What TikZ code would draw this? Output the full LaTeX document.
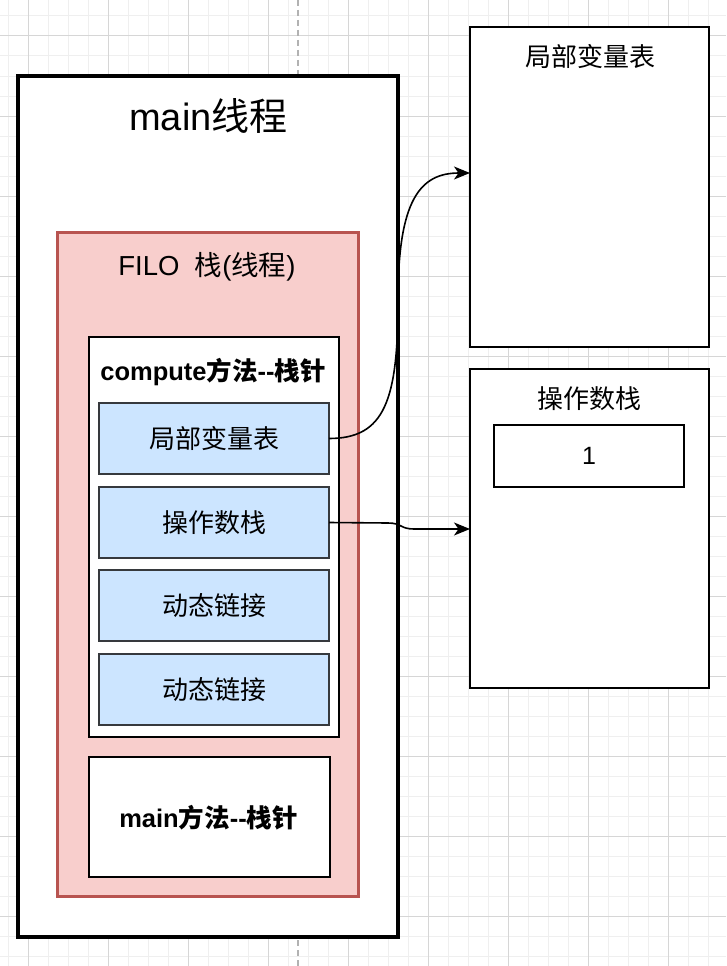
\documentclass[tikz,border=0pt]{standalone}
\usepackage{fontspec}
\setmainfont{Liberation Sans}
\newfontfamily\cjk{Noto Sans CJK SC}
\usetikzlibrary{arrows.meta}
\definecolor{pinkfill}{HTML}{F8CECC}
\definecolor{pinkline}{HTML}{B85450}
\definecolor{bluefill}{HTML}{CCE5FF}
\definecolor{blueline}{HTML}{36393D}
\definecolor{gridminor}{HTML}{EFEFEF}
\definecolor{gridmajor}{HTML}{D6D6D6}
\tikzset{
  box/.style={draw=black, fill=white, rectangle, inner sep=0pt, outer sep=0pt, anchor=north west},
  stackbox/.style={box, draw=pinkline, fill=pinkfill, line width=3pt},
  bluebox/.style={box, draw=blueline, fill=bluefill, line width=2pt, minimum width=230pt, minimum height=71pt,
    font=\fontsize{26}{30}\selectfont\cjk},
  lbl/.style={inner sep=0pt, font=\fontsize{26}{30}\selectfont},
  conn/.style={draw=black, line width=1.6pt, -{Stealth[length=16pt,width=13pt,inset=4.5pt]}},
}
\begin{document}
\begin{tikzpicture}[x=1pt,y=-1pt]
\useasboundingbox (0,0) rectangle (726,966);
\fill[white] (0,0) rectangle (726,966);
% grid
\foreach \x in {8,28,...,726} \draw[gridminor, line width=1pt] (\x,0) -- (\x,966);
\foreach \y in {16,36,...,966} \draw[gridminor, line width=1pt] (0,\y) -- (726,\y);
\foreach \x in {28,108,...,726} \draw[gridmajor, line width=1pt] (\x,0) -- (\x,966);
\foreach \y in {36,116,...,966} \draw[gridmajor, line width=1pt] (0,\y) -- (726,\y);
% guide line
\draw[gray!60, line width=1.2pt, dash pattern=on 6pt off 4pt] (298,0) -- (298,966);

% main thread box
\node[box, line width=4pt, minimum width=380pt, minimum height=861pt] (mainth) at (18,76) {};
\node[lbl, font=\fontsize{38}{42}\selectfont] (maintitle) at (208.5,116) {main{\cjk 线程}};

% stack box
\node[stackbox, minimum width=301pt, minimum height=664pt] (stack) at (57,232) {};
\node[lbl, font=\fontsize{27.5}{31}\selectfont] (stacktitle) at (207,267) {FILO\ \ {\cjk 栈}({\cjk 线程})};

% compute frame
\node[box, line width=2pt, minimum width=250pt, minimum height=400pt] (compute) at (89,337) {};
\node[lbl, font=\fontsize{25.5}{29}\selectfont\bfseries] (computetitle) at (213,372) {compute{\cjk 方法}-{}-{\cjk 栈针}};

\node[bluebox] (lv) at (99,403) {局部变量表};
\node[bluebox] (os) at (99,487) {操作数栈};
\node[bluebox] (dl1) at (99,570) {动态链接};
\node[bluebox] (dl2) at (99,654) {动态链接};

% main method frame
\node[box, line width=2pt, minimum width=241pt, minimum height=120pt] (mainm) at (89,757) {};
\node[lbl, font=\fontsize{25.5}{29}\selectfont\bfseries] (mainmtitle) at (208.5,818) {main{\cjk 方法}-{}-{\cjk 栈针}};

% right boxes
\node[box, line width=2pt, minimum width=239pt, minimum height=320pt] (lvt) at (470,27) {};
\node[lbl, font=\fontsize{26}{30}\selectfont\cjk] (lvttitle) at (590,57) {局部变量表};

\node[box, line width=2pt, minimum width=239pt, minimum height=319pt] (ost) at (470,369) {};
\node[lbl, font=\fontsize{26}{30}\selectfont\cjk] (osttitle) at (589.5,399) {操作数栈};
\node[box, line width=2pt, minimum width=190pt, minimum height=62pt] (one) at (494,425) {};
\node[lbl, font=\fontsize{25}{29}\selectfont] (onetxt) at (589,456) {1};

% connectors
\coordinate (lvin) at (470,173);
\coordinate (osin) at (470,529);
\draw[conn] (lv.east) .. controls (385,438.5) and (398,400) .. (398,300)
   .. controls (398,200) and (420,173) .. (lvin);
\draw[conn] (os.east) -- (388,523) .. controls (402,523) and (400,529) .. (414,529) -- (osin);
\end{tikzpicture}
\end{document}
